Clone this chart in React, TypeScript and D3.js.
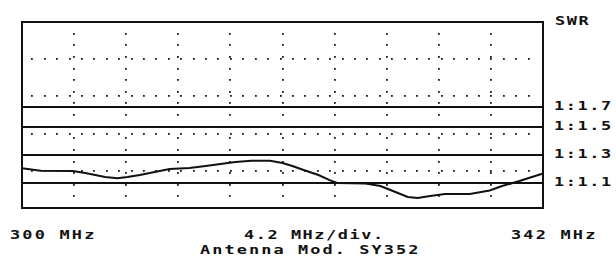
import * as d3 from 'd3';

// Sweep: 300 .. 342 MHz, 4.2 MHz per division
const freqRange = [300, 342];
const mhzPerDiv = 4.2;

// SWR reference lines (right-hand labels)
const swrLevels = [1.1, 1.3, 1.5, 1.7];
const swrLabels = ['1:1.1', '1:1.3', '1:1.5', '1:1.7'];

const traceFreq = [
  300.0, 301.5, 304.1, 305.1, 305.9, 306.7, 307.7, 308.5, 309.5, 310.7, 311.9,
  313.5, 314.8, 316.0, 317.2, 318.5, 320.0, 321.0, 321.8, 322.7, 323.9, 324.8,
  325.4, 327.7, 328.9, 330.1, 331.1, 331.9, 332.9, 334.1, 336.1, 337.7, 338.7,
  340.1, 342.0,
];
const traceSwr = [
  1.205, 1.188, 1.186, 1.171, 1.157, 1.143, 1.134, 1.143, 1.157, 1.179, 1.2,
  1.207, 1.221, 1.236, 1.25, 1.259, 1.259, 1.243, 1.221, 1.193, 1.157, 1.121,
  1.1, 1.097, 1.082, 1.047, 1.018, 1.012, 1.024, 1.035, 1.035, 1.056, 1.082,
  1.114, 1.168,
];

const bottomLeft = '300 MHz';
const bottomRight = '342 MHz';
const bottomMid = '4.2 MHz/div.';
const caption = 'Antenna Mod. SY352';

const W = 616;
const H = 260;
const plot = { left: 22, right: 543, top: 22, bottom: 208 };
const ink = '#111';
const mono = '"DejaVu Sans Mono", "Liberation Mono", monospace';
// the plotter font is wide, so stretch the mono glyphs horizontally
const sx = 1.3;

type LabelProps = {
  x: number;
  y: number;
  size: number;
  spacing: number;
  children: string;
};

function WideText({ x, y, size, spacing, children }: LabelProps) {
  return (
    <text
      transform={`scale(${sx},1)`}
      x={x / sx}
      y={y}
      fontFamily={mono}
      fontSize={size}
      fontWeight="bold"
      letterSpacing={spacing}
      fill={ink}
    >
      {children}
    </text>
  );
}

export default function App() {
  const x = d3.scaleLinear().domain(freqRange).range([plot.left, plot.right]);
  // instrument scale is not linear in SWR, so map it piecewise
  const y = d3
    .scaleLinear()
    .domain([1.0, 1.1, 1.3, 1.5, 1.7])
    .range([200, 183, 155, 127, 107]);
  // 5 vertical divisions for the dotted grid
  const gy = d3.scaleLinear().domain([0, 5]).range([plot.bottom, plot.top]);
  // fine dot spacing along grid lines
  const dy = d3.scaleLinear().domain([0, 16]).range([plot.bottom, plot.top]);

  const nDiv = Math.round((freqRange[1] - freqRange[0]) / mhzPerDiv);
  const vLines = d3.range(1, nDiv).map((i) => x(freqRange[0] + i * mhzPerDiv));
  const hLines = d3.range(1, 5).map((i) => gy(i));
  const dotFreqs = d3.range(freqRange[0] + 1, freqRange[1]);
  const dotRows = d3.range(1, 16).map((i) => dy(i));

  const line = d3
    .line<number>()
    .x((_, i) => x(traceFreq[i]))
    .y((v) => y(v));

  const dots: [number, number][] = [];
  vLines.forEach((vx) => dotRows.forEach((ry) => dots.push([vx, ry])));
  hLines.forEach((hy) => dotFreqs.forEach((f) => dots.push([x(f) - 2, hy])));

  return (
    <svg
      width={W}
      height={H}
      style={{ position: 'absolute', left: 0, top: 0, background: '#fff' }}
    >
      {/* dotted grid */}
      <g fill="#1a1a1a">
        {dots.map(([cx, cy], i) => (
          <rect
            key={i}
            x={Math.round(cx) - 1}
            y={Math.round(cy) - 1}
            width={1.8}
            height={1.8}
          />
        ))}
      </g>

      {/* SWR reference lines */}
      <g stroke={ink} strokeWidth={2}>
        {swrLevels.map((s) => (
          <line key={s} x1={plot.left} x2={plot.right} y1={y(s)} y2={y(s)} />
        ))}
      </g>

      {/* trace */}
      <path d={line(traceSwr) ?? ''} fill="none" stroke={ink} strokeWidth={2} />

      {/* frame */}
      <rect
        x={plot.left}
        y={plot.top}
        width={plot.right - plot.left}
        height={plot.bottom - plot.top}
        fill="none"
        stroke={ink}
        strokeWidth={2}
      />

      {/* right labels */}
      <WideText x={plot.right + 12} y={plot.top + 3} size={13} spacing={1.2}>
        SWR
      </WideText>
      {swrLabels.map((t, i) => (
        <WideText
          key={t}
          x={plot.right + 11}
          y={y(swrLevels[i]) + 3}
          size={13}
          spacing={1.2}
        >
          {t}
        </WideText>
      ))}

      {/* bottom labels */}
      <WideText x={x(freqRange[0]) - 12} y={239} size={13} spacing={1.7}>
        {bottomLeft}
      </WideText>
      <WideText x={x(freqRange[0]) + 222} y={239} size={13} spacing={1.2}>
        {bottomMid}
      </WideText>
      <WideText x={x(freqRange[1]) - 32} y={239} size={13} spacing={1.7}>
        {bottomRight}
      </WideText>
      <WideText x={x(freqRange[0]) + 178} y={254} size={13} spacing={1.6}>
        {caption}
      </WideText>
    </svg>
  );
}
